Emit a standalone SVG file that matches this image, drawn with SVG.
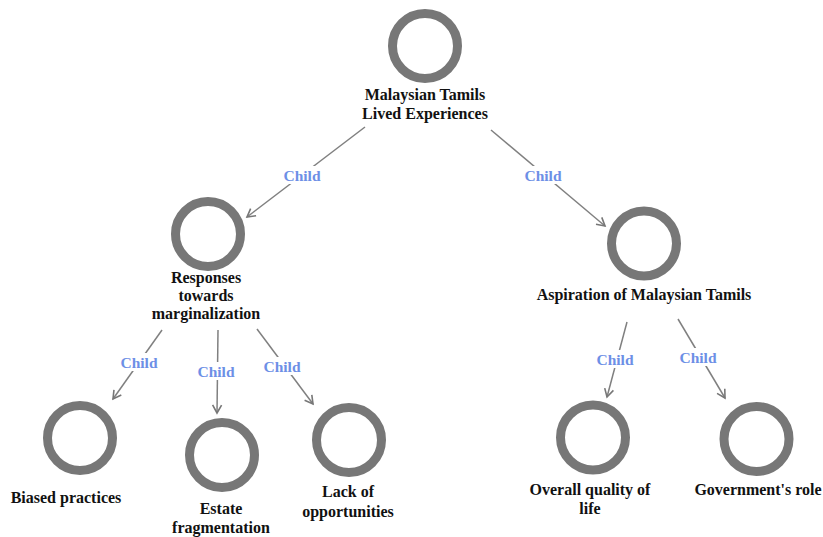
<svg xmlns="http://www.w3.org/2000/svg" width="823" height="537" viewBox="0 0 823 537">
<defs>
<marker id="arr" markerWidth="12" markerHeight="12" refX="10" refY="6" orient="auto" markerUnits="userSpaceOnUse">
<path d="M2,1.5 L10,6 L2,10.5" fill="none" stroke="#777" stroke-width="1.6"/>
</marker>
<style>
.node{fill:none;stroke:#777;stroke-width:9}
.lbl{font-family:"Liberation Serif","Times New Roman",serif;font-weight:bold;font-size:16px;fill:#111;text-anchor:middle}
.edge{stroke:#808080;stroke-width:1.5;fill:none;marker-end:url(#arr)}
.el{font-family:"Liberation Serif","Times New Roman",serif;font-weight:bold;font-size:15.5px;fill:#6d8fe6;text-anchor:middle}
.bg{fill:#fff}
</style>
</defs>
<rect width="823" height="537" fill="#fff"/>
<g id="edges">
<line class="edge" x1="365" y1="127" x2="247" y2="217"/>
<rect class="bg" x="281" y="166" width="42" height="18"/>
<text class="el" x="302" y="181">Child</text>
<line class="edge" x1="491" y1="130" x2="605" y2="226"/>
<rect class="bg" x="522" y="166" width="42" height="18"/>
<text class="el" x="543" y="181">Child</text>
<line class="edge" x1="162" y1="330" x2="113" y2="399"/>
<rect class="bg" x="118" y="353" width="42" height="18"/>
<text class="el" x="139" y="368">Child</text>
<line class="edge" x1="218" y1="330" x2="217" y2="413"/>
<rect class="bg" x="195" y="362" width="42" height="18"/>
<text class="el" x="216" y="377">Child</text>
<line class="edge" x1="257" y1="329" x2="313" y2="404"/>
<rect class="bg" x="261" y="357" width="42" height="18"/>
<text class="el" x="282" y="372">Child</text>
<line class="edge" x1="627" y1="322" x2="607" y2="397"/>
<rect class="bg" x="594" y="350" width="42" height="18"/>
<text class="el" x="615" y="365">Child</text>
<line class="edge" x1="678" y1="319" x2="725" y2="398"/>
<rect class="bg" x="677" y="348" width="42" height="18"/>
<text class="el" x="698" y="363">Child</text>
</g>
<g id="n-root">
<circle class="node" cx="425" cy="46" r="32.5"/>
<text class="lbl" x="425" y="100">Malaysian Tamils</text>
<text class="lbl" x="425" y="119">Lived Experiences</text>
</g>
<g id="n-responses">
<circle class="node" cx="208" cy="234" r="32.5"/>
<text class="lbl" x="206" y="283">Responses</text>
<text class="lbl" x="206" y="301">towards</text>
<text class="lbl" x="206" y="319">marginalization</text>
</g>
<g id="n-aspiration">
<circle class="node" cx="644" cy="243.5" r="32.5"/>
<text class="lbl" x="644" y="300">Aspiration of Malaysian Tamils</text>
</g>
<g id="n-biased">
<circle class="node" cx="80" cy="438" r="32.5"/>
<text class="lbl" x="66" y="503">Biased practices</text>
</g>
<g id="n-estate">
<circle class="node" cx="222" cy="455" r="32.5"/>
<text class="lbl" x="221" y="514">Estate</text>
<text class="lbl" x="221" y="533">fragmentation</text>
</g>
<g id="n-lack">
<circle class="node" cx="349" cy="440" r="32.5"/>
<text class="lbl" x="348" y="497">Lack of</text>
<text class="lbl" x="348" y="517">opportunities</text>
</g>
<g id="n-overall">
<circle class="node" cx="593" cy="437.5" r="32.5"/>
<text class="lbl" x="590" y="495">Overall quality of</text>
<text class="lbl" x="590" y="514">life</text>
</g>
<g id="n-government">
<circle class="node" cx="756.5" cy="439" r="32.5"/>
<text class="lbl" x="758" y="495">Government's role</text>
</g>
</svg>
